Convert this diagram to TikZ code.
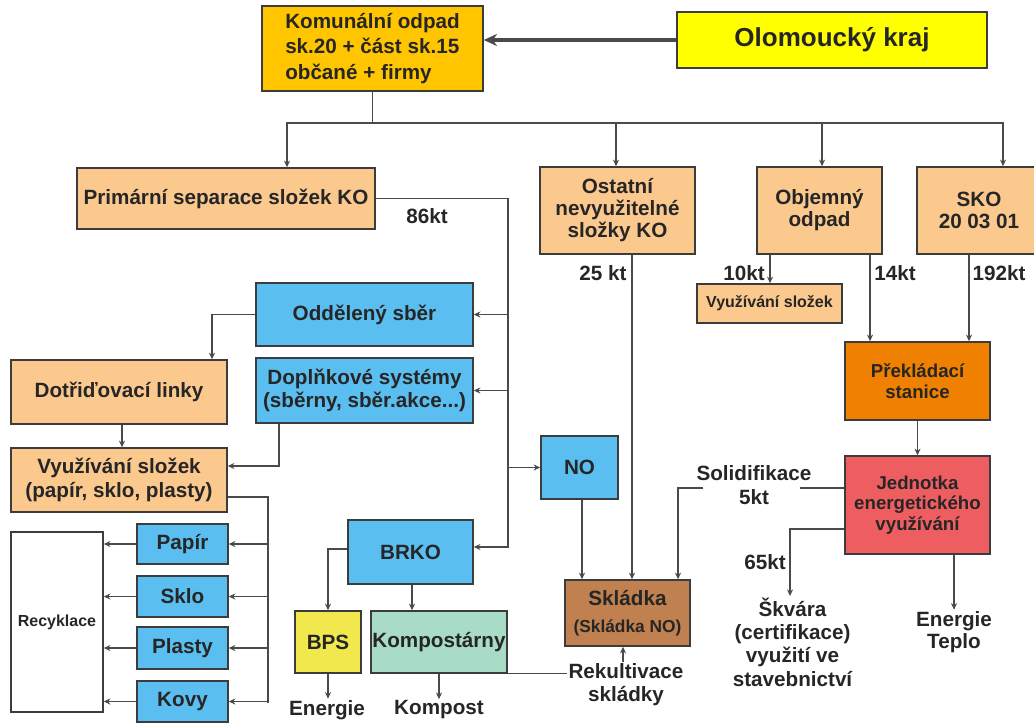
\documentclass[tikz,border=0pt]{standalone}
\usepackage{fontspec}
\setmainfont{Liberation Sans}
\usetikzlibrary{arrows.meta,calc}
\definecolor{bd}{HTML}{3C3C3C}
\definecolor{ln}{HTML}{4A4A4A}
\definecolor{txt}{HTML}{262626}
\definecolor{cKom}{HTML}{FFC600}
\definecolor{cOlo}{HTML}{FFFF00}
\definecolor{cPeach}{HTML}{FBC88E}
\definecolor{cBlue}{HTML}{5BBEF0}
\definecolor{cOrange}{HTML}{F08000}
\definecolor{cRed}{HTML}{EE5E60}
\definecolor{cBrown}{HTML}{C0804F}
\definecolor{cBps}{HTML}{F0E84C}
\definecolor{cKomp}{HTML}{A8DCC6}
\tikzset{
  bf/.style={font=\bfseries\fontsize{15.5}{17.5}\selectfont},
  box/.style={draw=bd, line width=1.1pt, inner sep=1pt, align=center, text=txt, bf},
  lbl/.style={inner sep=1pt, align=center, text=txt, bf},
  ln/.style={draw=ln, line width=0.85pt},
  arr/.style={ln, -{Stealth[length=5pt,width=4.5pt]}},
}
\begin{document}
\begin{tikzpicture}[x=0.75pt,y=-0.75pt]
\useasboundingbox (0,0) rectangle (1034,726);
% boxes
\node[box, fill=cKom, minimum width=165.75pt, minimum height=63.75pt, align=left, font=\bfseries\fontsize{15.5}{19}\selectfont] (kom) at (372.5,48.5) {Komunální odpad\\sk.20 + část sk.15\\občané + firmy};
\node[box, fill=cOlo, minimum width=232.5pt, minimum height=42pt, font=\bfseries\fontsize{19.5}{22}\selectfont] (olo) at (832,40) {Olomoucký kraj};
\node[box, fill=cPeach, minimum width=223.5pt, minimum height=45.75pt] (pri) at (226,198.5) {Primární separace složek KO};
\node[box, fill=cPeach, minimum width=116.25pt, minimum height=65.25pt, font=\bfseries\fontsize{15.5}{16.5}\selectfont] (ost) at (617.5,210.5) {Ostatní\\nevyužitelné\\složky KO};
\node[box, fill=cPeach, minimum width=93.75pt, minimum height=65.25pt, font=\bfseries\fontsize{15.5}{16.5}\selectfont] (obj) at (819.5,210.5) {Objemný\\odpad};
\node[box, fill=cPeach, minimum width=93pt, minimum height=65.25pt, font=\bfseries\fontsize{15.5}{16.5}\selectfont] (sko) at (979,210.5) {SKO\\20 03 01};
\node[box, fill=cPeach, minimum width=108.75pt, minimum height=29.25pt, font=\bfseries\fontsize{12}{14}\selectfont] (vyz2) at (769.5,303.5) {Využívání složek};
\node[box, fill=cOrange, minimum width=108.75pt, minimum height=58.5pt, font=\bfseries\fontsize{14}{15.5}\selectfont] (pre) at (917.5,381) {Překládací\\stanice};
\node[box, fill=cRed, minimum width=108.75pt, minimum height=73.5pt, font=\bfseries\fontsize{14}{15.5}\selectfont] (jed) at (917.5,505) {Jednotka\\energetického\\využívání};
\node[box, fill=cBlue, minimum width=57.75pt, minimum height=47.25pt] (no) at (579.5,467.5) {NO};
\node[box, fill=cBrown, minimum width=93.75pt, minimum height=49.5pt] (skl) at (627.5,613) {Skládka\\[3pt]{\fontsize{13}{15}\selectfont (Skládka NO)}};
\node[box, fill=cBlue, minimum width=162.75pt, minimum height=47.25pt] (odd) at (364.5,314.5) {Oddělený sběr};
\node[box, fill=cBlue, minimum width=162.75pt, minimum height=48.75pt] (dop) at (364.5,390.5) {Doplňkové systémy\\(sběrny, sběr.akce...)};
\node[box, fill=cPeach, minimum width=162pt, minimum height=48pt] (dot) at (119,392) {Dotřiďovací linky};
\node[box, fill=cPeach, minimum width=162pt, minimum height=48pt] (vyz) at (119,480) {Využívání složek\\(papír, sklo, plasty)};
\node[box, fill=white, minimum width=69pt, minimum height=135pt, font=\bfseries\fontsize{12}{14}\selectfont] (rec) at (57,622) {Recyklace};
\node[box, fill=cBlue, minimum width=68.25pt, minimum height=30pt] (pap) at (182.5,544) {Papír};
\node[box, fill=cBlue, minimum width=68.25pt, minimum height=30.75pt] (skl2) at (182.5,596.5) {Sklo};
\node[box, fill=cBlue, minimum width=68.25pt, minimum height=31.5pt] (pla) at (182.5,648) {Plasty};
\node[box, fill=cBlue, minimum width=68.25pt, minimum height=30.75pt] (kov) at (182.5,701.5) {Kovy};
\node[box, fill=cBlue, minimum width=93.75pt, minimum height=48pt] (brko) at (410.5,552) {BRKO};
\node[box, fill=cBps, minimum width=49.5pt, minimum height=46.5pt] (bps) at (328,642) {BPS};
\node[box, fill=cKomp, minimum width=102pt, minimum height=46.5pt] (kompo) at (439,642) {Kompostárny};
% labels
\node[lbl] (t86) at (427,216) {86kt};
\node[lbl] (t25) at (603,273) {25 kt};
\node[lbl] (t10) at (744,273) {10kt};
\node[lbl] (t14) at (895,273) {14kt};
\node[lbl] (t192) at (999,273) {192kt};
\node[lbl, font=\bfseries\fontsize{15.5}{18}\selectfont] (sol) at (754,485) {Solidifikace\\5kt};
\node[lbl] (t65) at (765,562) {65kt};
\node[lbl, font=\bfseries\fontsize{15.5}{17.5}\selectfont] (skv) at (792.5,642) {Škvára\\(certifikace)\\využití ve\\stavebnictví};
\node[lbl, font=\bfseries\fontsize{15.5}{16.5}\selectfont] (ene) at (954,632) {Energie\\Teplo};
\node[lbl, font=\bfseries\fontsize{15.5}{17}\selectfont] (rek) at (626,684.5) {Rekultivace\\skládky};
\node[lbl] (ebps) at (327,710) {Energie};
\node[lbl] (komp) at (439,710) {Kompost};
% connectors
\draw[ln, line width=2.4pt, -{Stealth[length=10pt,width=9pt]}] (olo.west) -- (olo.west -| kom.east);
\coordinate (b) at (372.5,123);
\draw[ln] (kom.south) -- (b);
\draw[arr] (b) -| ([shift={(61,0)}]pri.north);
\draw[arr] (b) -| ([shift={(-1.5,0)}]ost.north);
\draw[arr] (b) -| ([shift={(2.5,0)}]obj.north);
\draw[arr] (b) -| ([shift={(24,0)}]sko.north);
\coordinate (tk) at (508,547);
\draw[arr] (pri.east) -| (tk) -- (tk -| brko.east);
\draw[arr] (tk |- odd.east) -- (odd.east);
\draw[arr] (tk |- dop.east) -- (dop.east);
\draw[arr] (tk |- no.west) -- (no.west);
\draw[arr] (odd.west) -| ([shift={(93,0)}]dot.north);
\draw[arr] ([shift={(3,0)}]dot.south) -- ([shift={(3,0)}]vyz.north);
\draw[arr] ([shift={(-85.5,0)}]dop.south) |- ([shift={(0,-14)}]vyz.east);
\coordinate (rk) at (268,703);
\draw[ln] ([shift={(0,17)}]vyz.east) -| (rk);
\foreach \n in {pap,skl2,pla,kov}{
  \draw[arr] (rk |- \n.east) -- (\n.east);
  \draw[arr] (\n.west) -- (\n.west -| rec.east);
}
\draw[arr] ([shift={(0,-3)}]brko.west) -| (bps.north);
\draw[arr] ([shift={(1.5,0)}]brko.south) -- ([shift={(1.5,0)}]brko.south |- kompo.north);
\draw[arr] (bps.south) -- (bps.south |- ebps.north);
\draw[arr] (kompo.south) -- (komp.north);
\draw[ln] (kompo.south east) -- (kompo.south east -| rek.west);
\draw[arr] ([shift={(-3,0)}]rek.north) -- ([shift={(-4.5,0)}]skl.south);
\draw[arr] ([shift={(14.5,0)}]ost.south) -- ([shift={(4.5,0)}]skl.north);
\draw[arr] ([shift={(2.5,0)}]no.south) -- ([shift={(-45.5,0)}]skl.north);
\coordinate (solR) at (800,488);
\coordinate (solL) at (703,488);
\draw[ln] (jed.west |- solR) -- (solR);
\draw[arr] (solL) -| ([shift={(50.5,0)}]skl.north);
\draw[arr] ([shift={(0,24)}]jed.west) -| ([shift={(-2.5,0)}]skv.north);
\draw[arr] ([shift={(36.5,0)}]jed.south) -- (ene.north);
\draw[arr] (pre.south) -- (jed.north);
\draw[arr] ([shift={(-49.5,0)}]obj.south) -- ([shift={(-49.5,0)}]obj.south |- vyz2.north);
\draw[arr] ([shift={(50.5,0)}]obj.south) -- ([shift={(-47.5,0)}]pre.north);
\draw[arr] ([shift={(-10,0)}]sko.south) -- ([shift={(51.5,0)}]pre.north);
\end{tikzpicture}
\end{document}
